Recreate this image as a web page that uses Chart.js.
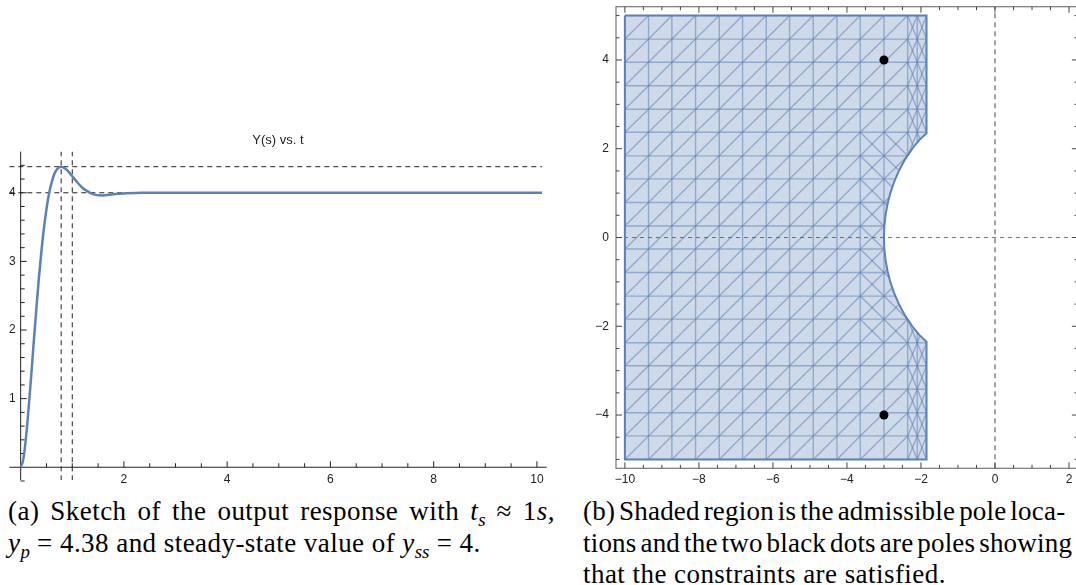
<!DOCTYPE html>
<html>
<head>
<meta charset="utf-8">
<script src="https://cdn.jsdelivr.net/npm/chart.js@4.4.1/dist/chart.umd.min.js"></script>
<style>
  html, body { margin: 0; padding: 0; background: #fff; }
  body { width: 1076px; height: 585px; overflow: hidden; position: relative; }
  .linea { position: absolute; font-family: "Liberation Serif", "DejaVu Serif", serif; font-size: 27px; letter-spacing: 0.45px; line-height: 31px; color: #000; white-space: nowrap; }
  .just { text-align: justify; text-align-last: justify; }
  .apretada { letter-spacing: 0.2px; word-spacing: -3px; }
  sub { font-size: 70%; line-height: 0; letter-spacing: 0; }
</style>
</head>
<body>
<canvas id="graficaRespuesta" width="570" height="495" style="position:absolute;left:0;top:0"></canvas>
<canvas id="graficaPolos" width="520" height="492" style="position:absolute;left:580px;top:0"></canvas>

<div class="linea just" style="left:8px; top:496px; width:547px">(a) Sketch of the output response with <i>t<sub>s</sub></i> &#8776; 1<i>s</i>,</div>
<div class="linea" style="left:8px; top:528px"><i>y<sub>p</sub></i> = 4.38 and steady-state value of <i>y<sub>ss</sub></i> = 4.</div>
<div class="linea apretada" style="left:583px; top:496px">(b) Shaded region is the admissible pole loca-</div>
<div class="linea apretada" style="left:583px; top:528px">tions and the two black dots are poles showing</div>
<div class="linea" style="left:583px; top:559px">that the constraints are satisfied.</div>

<script>
// ---- grafica (a): respuesta al escalon ----
const tiempos = [0, 0.05, 0.1, 0.15, 0.2, 0.25, 0.3, 0.35, 0.4, 0.45, 0.5, 0.55, 0.6, 0.65, 0.7, 0.785, 0.9, 1.0, 1.1, 1.2, 1.3, 1.4, 1.57, 1.8, 2.0, 2.36, 2.7, 3.0, 4, 5, 6, 7, 8, 9, 10.1];
const salida = [0, 0.11, 0.41, 0.82, 1.29, 1.79, 2.27, 2.73, 3.13, 3.48, 3.76, 3.99, 4.15, 4.27, 4.34, 4.38, 4.33, 4.24, 4.15, 4.07, 4.02, 3.98, 3.96, 3.98, 3.99, 4.0, 4.0, 4.0, 4, 4, 4, 4, 4, 4, 4];
const tPico = 0.785;
const tEstab = 1.0;
const yPico = 4.38;
const yFinal = 4;
const ticksT = [2, 4, 6, 8, 10];
const ticksY = [1, 2, 3, 4];
const rangoT = [-0.22, 10.19];
const rangoY = [-0.19, 4.6];

// ---- grafica (b): region admisible de polos ----
const polosRe = [-3, -3];
const polosIm = [4, -4];
const regionRe = [-10, -1.85, -1.85, -2.04, -2.236, -2.437, -2.598, -2.727, -2.828, -2.905, -2.958, -2.99, -3.0, -2.99, -2.958, -2.905, -2.828, -2.727, -2.598, -2.437, -2.236, -2.04, -1.85, -1.85, -10, -10];
const regionIm = [5, 5, 2.35, 2.2, 2.0, 1.75, 1.5, 1.25, 1.0, 0.75, 0.5, 0.25, 0, -0.25, -0.5, -0.75, -1.0, -1.25, -1.5, -1.75, -2.0, -2.2, -2.35, -5, -5, 5];
const mallaRe = [-10, -9.36, -8.73, -8.09, -7.45, -6.82, -6.18, -5.55, -4.91, -4.27, -3.64, -3.0, -2.36, -2.1, -1.85];
const mallaIm = [5, 4.47, 3.95, 3.42, 2.89, 2.37, 1.84, 1.32, 0.79, 0.26, -0.26, -0.79, -1.32, -1.84, -2.37, -2.89, -3.42, -3.95, -4.47, -5];
const ticksRe = [-10, -8, -6, -4, -2, 0, 2];
const ticksIm = [-4, -2, 0, 2, 4];
const rangoRe = [-10.24, 2.24];
const rangoIm = [-5.2, 5.2];

const azul = "rgb(94, 129, 181)";
const fuenteEjes = "12px 'Liberation Sans', Arial, sans-serif";

const puntos = (xs, ys) => xs.map((v, i) => ({ x: v, y: ys[i] }));

function linea(ctx, x1, y1, x2, y2) {
  ctx.beginPath();
  ctx.moveTo(x1, y1);
  ctx.lineTo(x2, y2);
  ctx.stroke();
}

// ejes que se cruzan en el origen (estilo Mathematica)
const ejesCruzados = {
  id: "ejesCruzados",
  beforeDatasetsDraw(chart) {
    const { ctx, chartArea, scales: { x, y } } = chart;
    const x0 = x.getPixelForValue(0);
    const y0 = y.getPixelForValue(0);
    ctx.save();
    ctx.strokeStyle = "#222";
    ctx.lineWidth = 1;
    linea(ctx, chartArea.left, y0, chartArea.right, y0);
    linea(ctx, x0, chartArea.top, x0, chartArea.bottom);

    for (let t = 0.5; t <= rangoT[1]; t += 0.5) {
      const px = x.getPixelForValue(t);
      const largo = ticksT.includes(t) ? 6 : 4;
      linea(ctx, px, y0, px, y0 - largo);
    }
    for (let k = -1; k * 0.2 <= rangoY[1]; k++) {
      if (k === 0) continue;
      const py = y.getPixelForValue(k * 0.2);
      const largo = k % 5 === 0 ? 6 : 4;
      linea(ctx, x0, py, x0 + largo, py);
    }

    ctx.fillStyle = "#222";
    ctx.font = fuenteEjes;
    ctx.textAlign = "center";
    ctx.textBaseline = "top";
    ticksT.forEach(t => ctx.fillText(String(t), x.getPixelForValue(t), y0 + 6));
    ctx.textAlign = "right";
    ctx.textBaseline = "middle";
    ticksY.forEach(v => ctx.fillText(String(v), x0 - 5, y.getPixelForValue(v)));
    ctx.restore();
  }
};

// marco con marcas hacia adentro
const marco = {
  id: "marco",
  afterDatasetsDraw(chart) {
    const { ctx, chartArea: { left, right, top, bottom }, scales: { x, y } } = chart;
    ctx.save();
    ctx.strokeStyle = "#777";
    ctx.lineWidth = 1.2;
    ctx.strokeRect(left, top, right - left, bottom - top);

    ctx.lineWidth = 1;
    ctx.strokeStyle = "#444";
    for (let v = -10; v <= rangoRe[1]; v += 0.5) {
      const px = x.getPixelForValue(v);
      const largo = ticksRe.includes(v) ? 6 : 3.5;
      linea(ctx, px, bottom, px, bottom - largo);
      linea(ctx, px, top, px, top + largo);
    }
    for (let v = -5; v <= 5; v += 0.5) {
      const py = y.getPixelForValue(v);
      const largo = ticksIm.includes(v) ? 6 : 3.5;
      linea(ctx, left, py, left + largo, py);
      linea(ctx, right, py, right - largo, py);
    }

    ctx.fillStyle = "#222";
    ctx.font = fuenteEjes;
    ctx.textAlign = "center";
    ctx.textBaseline = "top";
    ticksRe.forEach(v => ctx.fillText(v < 0 ? "\u2212" + Math.abs(v) : String(v), x.getPixelForValue(v), bottom + 5));
    ctx.textAlign = "right";
    ctx.textBaseline = "middle";
    ticksIm.forEach(v => ctx.fillText(v < 0 ? "\u2212" + Math.abs(v) : String(v), left - 7, y.getPixelForValue(v)));
    ctx.restore();
  }
};

// malla triangular recortada a la region
const malla = {
  id: "malla",
  afterDatasetDraw(chart, args) {
    if (args.index !== 0) return;
    const { ctx, scales: { x, y } } = chart;
    const px = v => x.getPixelForValue(v);
    const py = v => y.getPixelForValue(v);
    ctx.save();
    ctx.beginPath();
    regionRe.forEach((re, i) => {
      if (i === 0) ctx.moveTo(px(re), py(regionIm[i]));
      else ctx.lineTo(px(re), py(regionIm[i]));
    });
    ctx.closePath();
    ctx.clip();
    ctx.strokeStyle = "rgba(94, 129, 181, 0.55)";
    ctx.lineWidth = 1.4;

    mallaRe.forEach(v => linea(ctx, px(v), py(5), px(v), py(-5)));
    mallaIm.forEach(v => linea(ctx, px(-10), py(v), px(-1.85), py(v)));

    for (let i = 0; i < mallaRe.length - 1; i++) {
      for (let j = 0; j < mallaIm.length - 1; j++) {
        const a = mallaRe[i], b = mallaRe[i + 1];
        const arriba = mallaIm[j], abajo = mallaIm[j + 1];
        linea(ctx, px(a), py(abajo), px(b), py(arriba));
        const cercaArco = i >= 10 && Math.abs(arriba + abajo) / 2 < 2.5;
        if (i >= 12 || cercaArco) linea(ctx, px(a), py(arriba), px(b), py(abajo));
      }
    }
    ctx.restore();
  }
};

const punteado = { borderColor: "#222", borderWidth: 1, borderDash: [5, 4], pointRadius: 0, fill: false };

new Chart(document.getElementById("graficaRespuesta"), {
  type: "line",
  data: {
    datasets: [
      { data: puntos(tiempos, salida), borderColor: azul, borderWidth: 2.5, pointRadius: 0, cubicInterpolationMode: "monotone", order: 0 },
      { ...punteado, data: [{ x: rangoT[0], y: yPico }, { x: tiempos[tiempos.length - 1], y: yPico }], order: 1 },
      { ...punteado, data: [{ x: rangoT[0], y: yFinal }, { x: tiempos[tiempos.length - 1], y: yFinal }], order: 1 },
      { ...punteado, data: [{ x: tPico, y: rangoY[0] }, { x: tPico, y: rangoY[1] }], order: 1 },
      { ...punteado, data: [{ x: tEstab, y: rangoY[0] }, { x: tEstab, y: rangoY[1] }], order: 1 }
    ]
  },
  options: {
    responsive: false,
    animation: false,
    layout: { padding: { left: 9.3, right: 23.3, top: 133, bottom: 14.7 } },
    scales: {
      x: { type: "linear", min: rangoT[0], max: rangoT[1], display: false },
      y: { type: "linear", min: rangoY[0], max: rangoY[1], display: false }
    },
    plugins: {
      legend: { display: false },
      tooltip: { enabled: false },
      title: {
        display: true,
        text: "Y(s) vs. t",
        color: "#222",
        font: { family: "'Liberation Sans', Arial, sans-serif", size: 13, weight: "normal" },
        padding: { top: 0, bottom: 3 }
      }
    }
  },
  plugins: [ejesCruzados]
});

new Chart(document.getElementById("graficaPolos"), {
  type: "line",
  data: {
    datasets: [
      { data: puntos(regionRe, regionIm), borderWidth: 0, pointRadius: 0, backgroundColor: "rgba(94, 129, 181, 0.3)", fill: "shape", tension: 0, order: 4 },
      { data: puntos(regionRe, regionIm), borderColor: azul, borderWidth: 2, pointRadius: 0, fill: false, tension: 0, order: 1 },
      { data: [{ x: 0, y: rangoIm[0] }, { x: 0, y: rangoIm[1] }], borderColor: "#444", borderWidth: 1, borderDash: [5, 4], pointRadius: 0, fill: false, order: 2 },
      { data: [{ x: rangoRe[0], y: 0 }, { x: rangoRe[1], y: 0 }], borderColor: "#555", borderWidth: 0.8, borderDash: [4, 4], pointRadius: 0, fill: false, order: 2 },
      { data: puntos(polosRe, polosIm), showLine: false, pointRadius: 4.5, pointBackgroundColor: "#000", pointBorderWidth: 0, order: 0 }
    ]
  },
  options: {
    responsive: false,
    animation: false,
    layout: { padding: { left: 36, right: 22.1, top: 6.7, bottom: 23.7 } },
    scales: {
      x: { type: "linear", min: rangoRe[0], max: rangoRe[1], display: false },
      y: { type: "linear", min: rangoIm[0], max: rangoIm[1], display: false }
    },
    plugins: { legend: { display: false }, tooltip: { enabled: false } }
  },
  plugins: [malla, marco]
});
</script>
</body>
</html>
